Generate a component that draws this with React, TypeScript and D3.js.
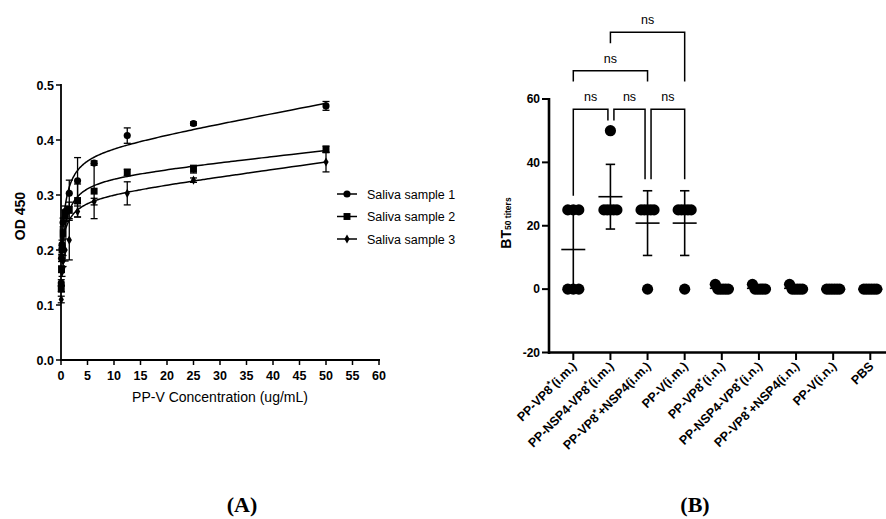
import React from 'react';
import * as d3 from 'd3';

// ---------- Panel A data ----------
const concentrations = [50, 25, 12.5, 6.25, 3.125, 1.5625, 0.78125, 0.390625, 0.1953, 0.0977, 0.0488];
const sample1 = [0.462, 0.430, 0.408, 0.358, 0.326, 0.303, 0.270, 0.250, 0.210, 0.185, 0.140];
const sample1Err = [0.008, 0.003, 0.014, 0.004, 0.042, 0.024, 0.01, 0.008, 0.008, 0.006, 0.006];
const sample2 = [0.383, 0.347, 0.341, 0.307, 0.290, 0.272, 0.262, 0.230, 0.200, 0.165, 0.130];
const sample2Err = [0.006, 0.007, 0.006, 0.050, 0.030, 0.015, 0.01, 0.008, 0.008, 0.006, 0.006];
const sample3 = [0.360, 0.327, 0.303, 0.288, 0.270, 0.218, 0.200, 0.180, 0.160, 0.130, 0.110];
const sample3Err = [0.018, 0.004, 0.021, 0.006, 0.010, 0.036, 0.02, 0.01, 0.008, 0.006, 0.006];
const sampleNames = ['Saliva sample 1', 'Saliva sample 2', 'Saliva sample 3'];
// fitted "total binding" model parameters: Y = Bg + Bmax*X/(Kd+X) + NS*X
const fitBg = [0.177, 0.170, 0.193];
const fitBmax = [0.2036, 0.1632, 0.105];
const fitKd = [0.8, 1.0, 1.2];
const fitNS = [0.001786, 0.001016, 0.001287];
const xTicksA = [0, 5, 10, 15, 20, 25, 30, 35, 40, 45, 50, 55, 60];
const yTicksA = [0.0, 0.1, 0.2, 0.3, 0.4, 0.5];

// ---------- Panel B data ----------
const groups = ['PP-VP8*(i.m.)', 'PP-NSP4-VP8*(i.m.)', 'PP-VP8*+NSP4(i.m.)', 'PP-V(i.m.)', 'PP-VP8*(i.n.)', 'PP-NSP4-VP8*(i.n.)', 'PP-VP8*+NSP4(i.n.)', 'PP-V(i.n.)', 'PBS'];
const titers = [
  [25, 25, 25, 0, 0, 0],
  [50, 25, 25, 25, 25, 25],
  [25, 25, 25, 25, 25, 0],
  [25, 25, 25, 25, 25, 0],
  [1.5, 0, 0, 0, 0, 0],
  [1.5, 0, 0, 0, 0, 0],
  [1.5, 0, 0, 0, 0, 0],
  [0, 0, 0, 0, 0, 0],
  [0, 0, 0, 0, 0, 0],
];
const yTicksB = [-20, 0, 20, 40, 60];
const bracketFrom = [0, 1, 2, 0, 1];
const bracketTo = [1, 2, 3, 2, 3];
const bracketTop = [56.8, 56.8, 56.8, 68.9, 81.1];
const bracketLeftEnd = [29.5, 53.2, 34.7, 65.5, 77.6];
const bracketRightEnd = [53.2, 34.7, 34.7, 65.5, 65.5];
const bracketLabel = ['ns', 'ns', 'ns', 'ns', 'ns'];

const SANS = 'Arial, Liberation Sans, sans-serif';

function Label({ text }: { text: string }) {
  const parts = text.split('*');
  return (
    <>
      {parts.map((p, i) => (
        <React.Fragment key={i}>
          {i > 0 && <tspan fontSize={9} dy={-5}>*</tspan>}
          <tspan dy={i > 0 ? 5 : 0}>{p}</tspan>
        </React.Fragment>
      ))}
    </>
  );
}

function PanelA() {
  const x = d3.scaleLinear().domain([0, 60]).range([61, 379]);
  const y = d3.scaleLinear().domain([0, 0.5]).range([360, 85]);
  const series = [
    { v: sample1, e: sample1Err, sym: d3.symbolCircle, size: 40 },
    { v: sample2, e: sample2Err, sym: d3.symbolSquare, size: 48 },
    { v: sample3, e: sample3Err, sym: d3.symbolDiamond, size: 24 },
  ];
  const minC = d3.min(concentrations) as number;
  const curveXs = d3.range(0, 201).map((i) => minC * Math.pow(50 / minC, i / 200));
  const line = d3.line<[number, number]>().x((d) => x(d[0])).y((d) => y(d[1])).curve(d3.curveMonotoneX);
  return (
    <g fontFamily={SANS}>
      {series.map((s, k) => {
        const pts: [number, number][] = curveXs.map((c) => [c, fitBg[k] + (fitBmax[k] * c) / (fitKd[k] + c) + fitNS[k] * c]);
        return <path key={'c' + k} d={line(pts) || ''} fill="none" stroke="#000" strokeWidth={1.5} />;
      })}
      {series.map((s, k) =>
        concentrations.map((c, i) => {
          const cx = x(c);
          const y1 = y(s.v[i] + s.e[i]);
          const y2 = y(s.v[i] - s.e[i]);
          return (
            <g key={'e' + k + '-' + i} stroke="#000" strokeWidth={1.3}>
              <line x1={cx} x2={cx} y1={y1} y2={y2} />
              <line x1={cx - 3.5} x2={cx + 3.5} y1={y1} y2={y1} />
              <line x1={cx - 3.5} x2={cx + 3.5} y1={y2} y2={y2} />
            </g>
          );
        })
      )}
      {series.map((s, k) =>
        concentrations.map((c, i) => (
          <path key={'m' + k + '-' + i} transform={`translate(${x(c)},${y(s.v[i])})`} d={d3.symbol(s.sym, s.size)() || ''} fill="#000" />
        ))
      )}
      <line x1={61} x2={61} y1={84} y2={361} stroke="#000" strokeWidth={1.8} />
      <line x1={60} x2={380} y1={360} y2={360} stroke="#000" strokeWidth={1.8} />
      {yTicksA.map((t) => (
        <g key={'yt' + t}>
          <line x1={56} x2={61} y1={y(t)} y2={y(t)} stroke="#000" strokeWidth={1.5} />
          <text x={54} y={y(t)} dy="0.36em" textAnchor="end" fontSize={12.5} fontWeight="bold">{t.toFixed(1)}</text>
        </g>
      ))}
      {xTicksA.map((t) => (
        <g key={'xt' + t}>
          <line x1={x(t)} x2={x(t)} y1={360} y2={365} stroke="#000" strokeWidth={1.5} />
          <text x={x(t)} y={380} textAnchor="middle" fontSize={12.5} fontWeight="bold">{t}</text>
        </g>
      ))}
      <text x={220} y={402} textAnchor="middle" fontSize={14}>PP-V Concentration (ug/mL)</text>
      <text transform="translate(25,216) rotate(-90)" textAnchor="middle" fontSize={14} fontWeight="bold">OD 450</text>
      {series.map((s, k) => {
        const ly = 194 + k * 22.5;
        return (
          <g key={'lg' + k}>
            <line x1={337} x2={357} y1={ly} y2={ly} stroke="#000" strokeWidth={1.5} />
            <path transform={`translate(347,${ly})`} d={d3.symbol(s.sym, s.size)() || ''} fill="#000" />
            <text x={367} y={ly} dy="0.36em" fontSize={12.5}>{sampleNames[k]}</text>
          </g>
        );
      })}
    </g>
  );
}

function PanelB() {
  const x = d3.scalePoint<string>().domain(groups).range([573.3, 870.3]);
  const y = d3.scaleLinear().domain([-20, 60]).range([352.5, 99]);
  const r = 5.6;
  return (
    <g fontFamily={SANS}>
      {groups.map((g, gi) => {
        const vals = titers[gi];
        const cx = x(g) as number;
        const mean = d3.mean(vals) as number;
        const sd = d3.deviation(vals) as number;
        const sorted = vals.map((v, i) => ({ v, i })).sort((a, b) => b.v - a.v);
        const clusters: { v: number; i: number }[][] = [];
        sorted.forEach((p) => {
          const last = clusters[clusters.length - 1];
          if (last && Math.abs(y(last[0].v) - y(p.v)) < 8) last.push(p);
          else clusters.push([p]);
        });
        const dots: { x: number; y: number }[] = [];
        clusters.forEach((cl) => {
          const n = cl.length;
          const w = Math.min(6.5, 2.75 * (n - 1));
          cl.forEach((p, j) => {
            const off = n > 1 ? -w + (2 * w * j) / (n - 1) : 0;
            dots.push({ x: cx + off, y: y(p.v) });
          });
        });
        return (
          <g key={'g' + gi}>
            {dots.map((d, j) => (
              <circle key={j} cx={d.x} cy={d.y} r={r} fill="#000" />
            ))}
            <g stroke="#000" strokeWidth={1.6}>
              <line x1={cx} x2={cx} y1={y(mean + sd)} y2={y(mean - sd)} />
              <line x1={cx - 4.7} x2={cx + 4.7} y1={y(mean + sd)} y2={y(mean + sd)} />
              <line x1={cx - 4.7} x2={cx + 4.7} y1={y(mean - sd)} y2={y(mean - sd)} />
              <line x1={cx - 12} x2={cx + 12} y1={y(mean)} y2={y(mean)} />
            </g>
          </g>
        );
      })}
      {bracketFrom.map((f, bi) => {
        const t = bracketTo[bi];
        const top = bracketTop[bi];
        const shareLeft = bracketFrom.some((f2, j) => j !== bi && bracketTop[j] === top && bracketTo[j] === f);
        const shareRight = bracketFrom.some((f2, j) => j !== bi && bracketTop[j] === top && f2 === t);
        const x1 = (x(groups[f]) as number) + (shareLeft ? 3.5 : 0);
        const x2 = (x(groups[t]) as number) - (shareRight ? 2.5 : 0);
        const yt = y(top);
        return (
          <g key={'b' + bi}>
            <path d={`M${x1},${y(bracketLeftEnd[bi])}V${yt}H${x2}V${y(bracketRightEnd[bi])}`} fill="none" stroke="#000" strokeWidth={1.5} />
            <text x={(x1 + x2) / 2} y={yt - 8} textAnchor="middle" fontSize={12.5}>{bracketLabel[bi]}</text>
          </g>
        );
      })}
      <line x1={549} x2={549} y1={98} y2={354} stroke="#000" strokeWidth={2.6} />
      <line x1={548} x2={900} y1={352.5} y2={352.5} stroke="#000" strokeWidth={2.6} />
      {yTicksB.map((t) => (
        <g key={'yt' + t}>
          <line x1={542} x2={549} y1={y(t)} y2={y(t)} stroke="#000" strokeWidth={2} />
          <text x={540} y={y(t)} dy="0.36em" textAnchor="end" fontSize={12} fontWeight="bold">{t}</text>
        </g>
      ))}
      {groups.map((g) => {
        const cx = x(g) as number;
        return (
          <g key={'xt' + g}>
            <line x1={cx} x2={cx} y1={352.5} y2={360} stroke="#000" strokeWidth={2} />
            <text transform={`translate(${cx + 4},${367}) rotate(-45)`} textAnchor="end" fontSize={12.5} fontWeight="bold">
              <Label text={g} />
            </text>
          </g>
        );
      })}
      <text transform="translate(511,223) rotate(-90)" textAnchor="middle" fontWeight="bold">
        <tspan fontSize={14}>BT</tspan>
        <tspan fontSize={8.5}>50 titers</tspan>
      </text>
    </g>
  );
}

export default function App() {
  return (
    <svg width={886} height={519} style={{ position: 'absolute', left: 0, top: 0, background: '#fff' }}>
      <rect width={886} height={519} fill="#fff" />
      <PanelA />
      <PanelB />
      <text x={242} y={512} textAnchor="middle" fontFamily="Liberation Serif, serif" fontWeight="bold" fontSize={22}>(A)</text>
      <text x={695} y={512} textAnchor="middle" fontFamily="Liberation Serif, serif" fontWeight="bold" fontSize={22}>(B)</text>
    </svg>
  );
}
